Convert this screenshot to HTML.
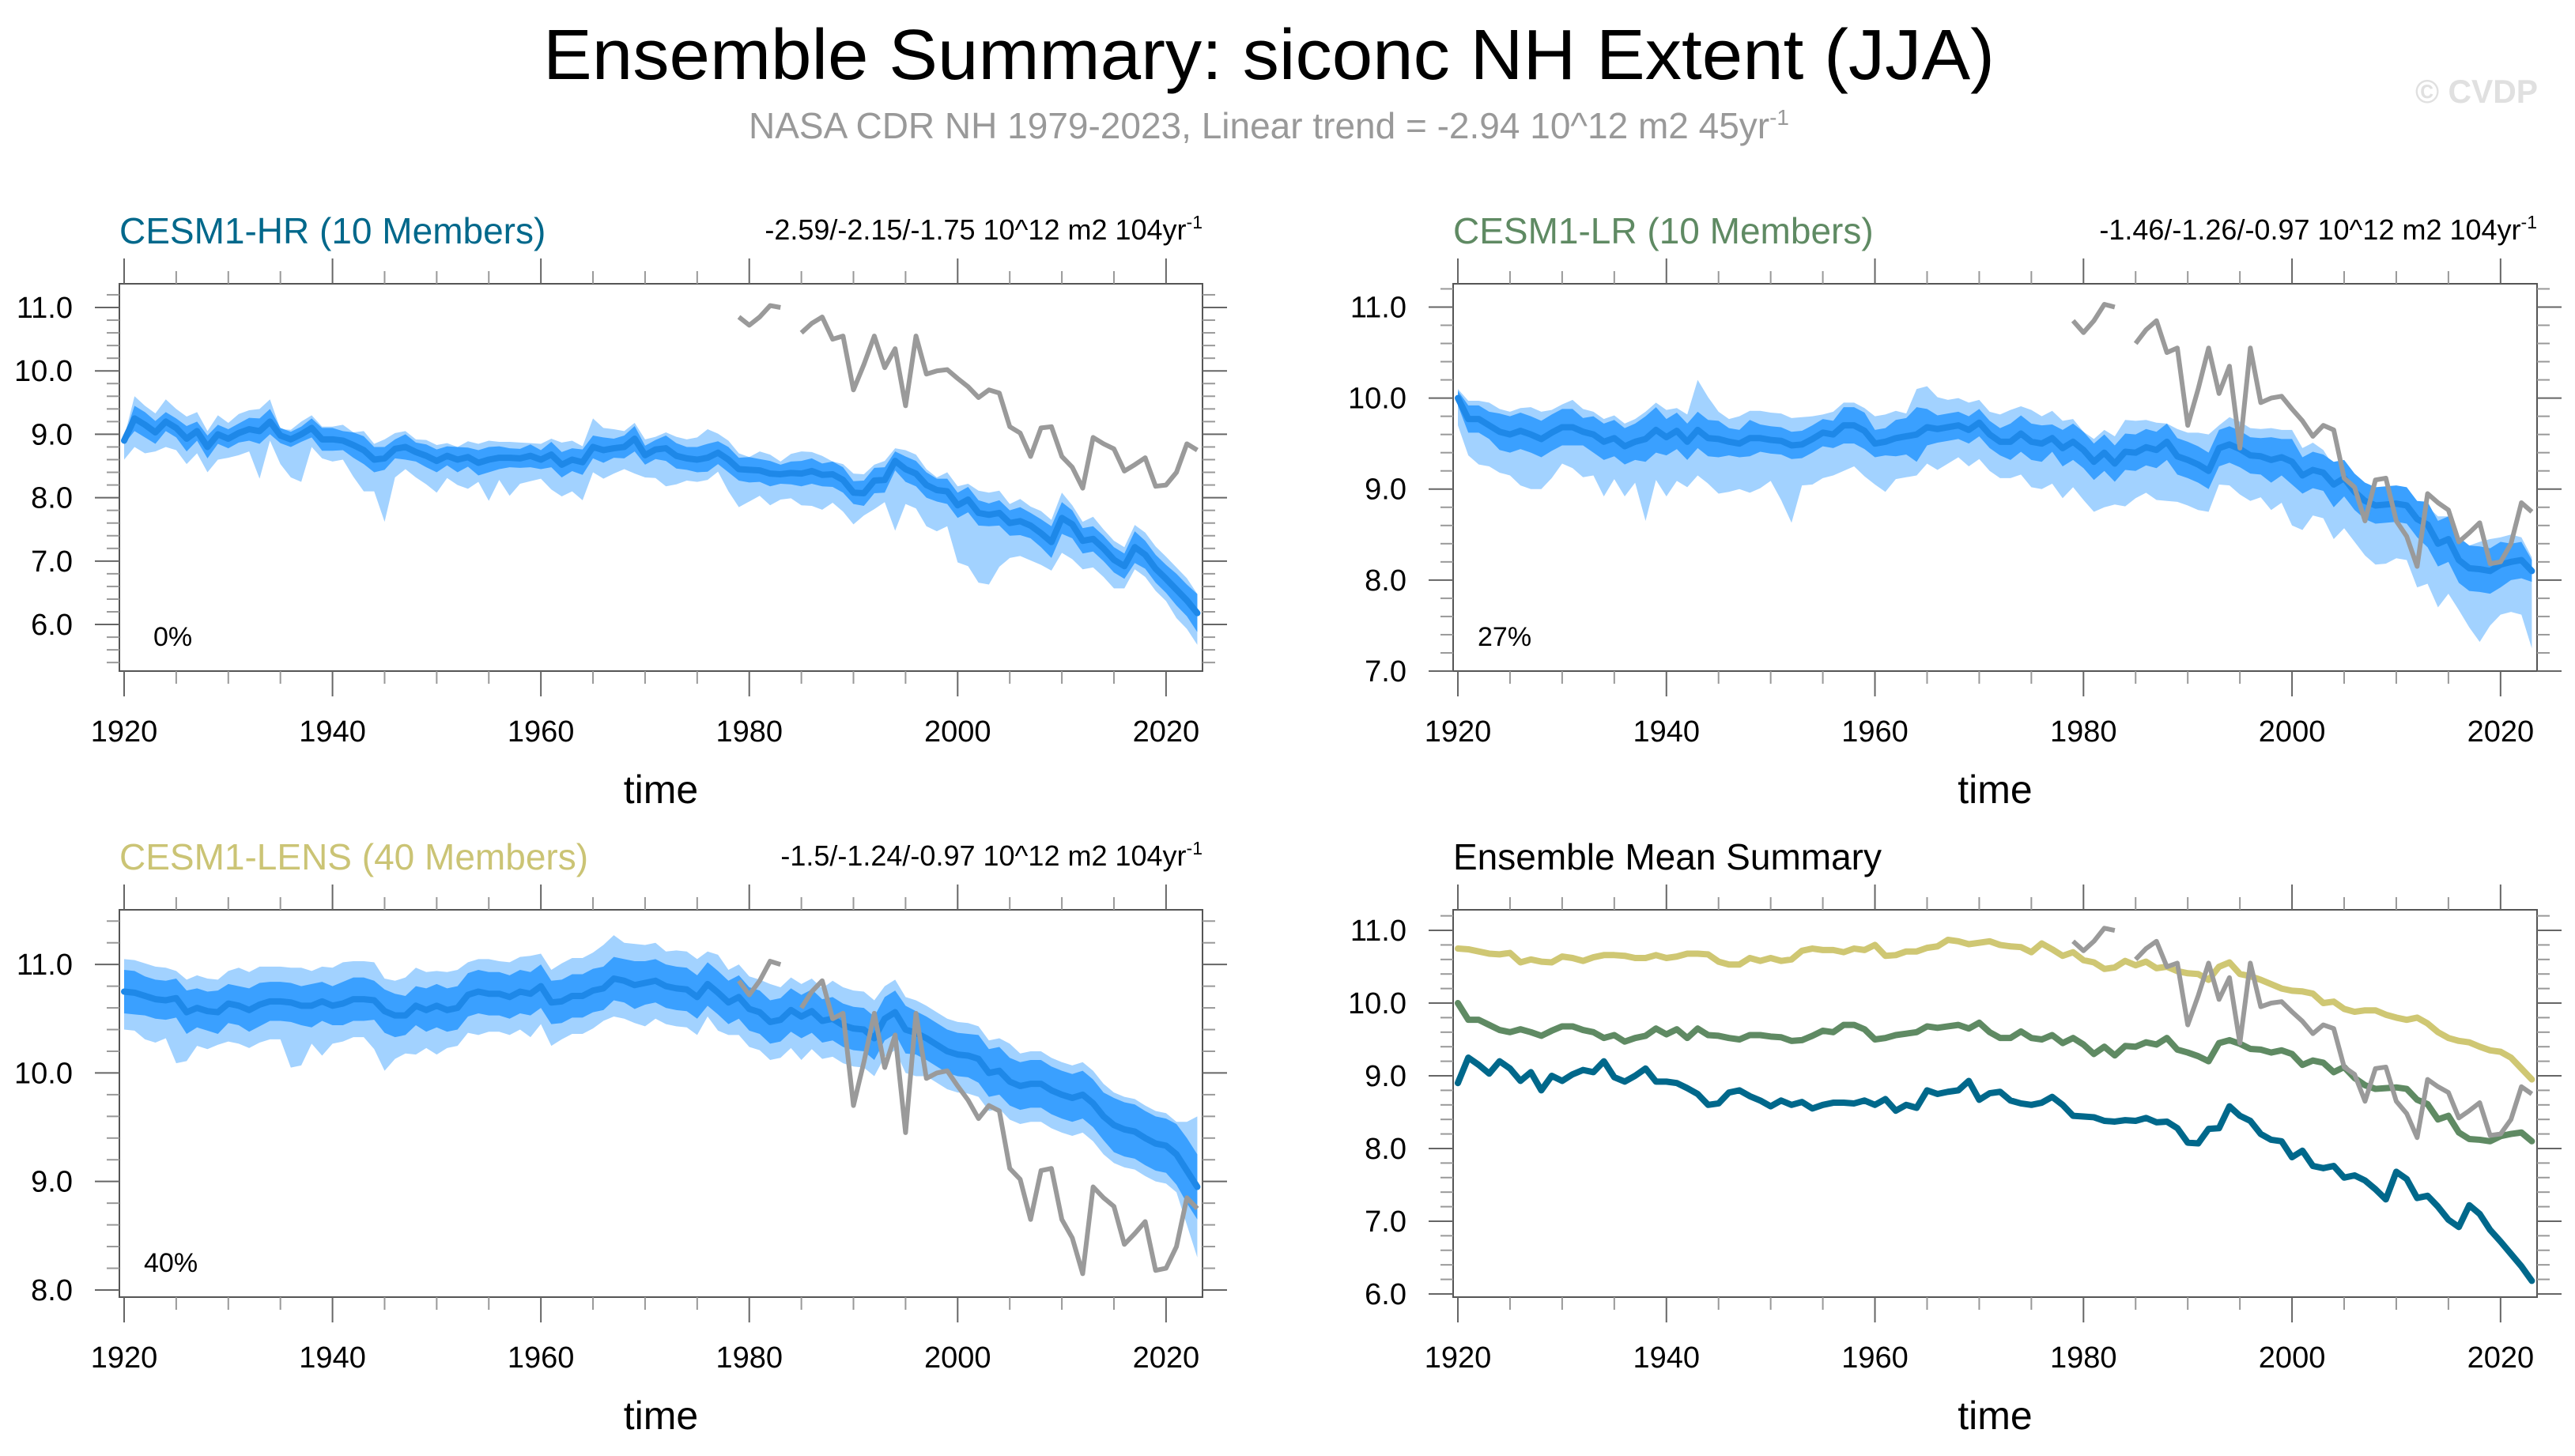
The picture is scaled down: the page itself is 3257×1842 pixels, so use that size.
<!DOCTYPE html>
<html><head><meta charset="utf-8"><title>Ensemble Summary: siconc NH Extent (JJA)</title>
<style>html,body{margin:0;padding:0;background:#fff}svg{display:block}text{font-family:"Liberation Sans",Arial,sans-serif}</style>
</head><body>
<svg id="fig" xmlns="http://www.w3.org/2000/svg" width="3257" height="1842" viewBox="0 0 3257 1842">
<text x="1605" y="100" font-size="90" text-anchor="middle" textLength="1836" lengthAdjust="spacingAndGlyphs" fill="#000">Ensemble Summary: siconc NH Extent (JJA)</text>
<text x="1605" y="175" font-size="46" text-anchor="middle" fill="#999">NASA CDR NH 1979-2023, Linear trend = -2.94 10^12 m2 45yr<tspan dy="-17" font-size="28">-1</tspan></text>
<text x="3055" y="130" font-size="42" font-weight="bold" fill="#e0e0e0" textLength="155" lengthAdjust="spacingAndGlyphs">© CVDP</text>
</svg>
<script>
// ---------- data ----------
const firstYear = 1920;
const hrMean = [8.90,9.25,9.15,9.03,9.20,9.10,8.93,9.05,8.80,9.00,
8.93,9.02,9.08,9.05,9.20,8.98,8.92,9.00,9.10,8.92,
8.92,8.90,8.83,8.75,8.60,8.62,8.77,8.80,8.72,8.66,
8.58,8.66,8.60,8.64,8.55,8.60,8.63,8.63,8.62,8.66,
8.60,8.68,8.52,8.60,8.56,8.80,8.75,8.78,8.80,8.93,
8.67,8.76,8.78,8.66,8.62,8.60,8.63,8.71,8.60,8.45,
8.44,8.43,8.38,8.37,8.39,8.38,8.42,8.36,8.37,8.28,
8.08,8.07,8.27,8.28,8.58,8.45,8.38,8.20,8.12,8.10,
7.88,7.97,7.76,7.73,7.76,7.60,7.63,7.56,7.44,7.30,
7.68,7.58,7.32,7.35,7.20,7.02,6.92,7.22,7.10,6.88,
6.72,6.55,6.38,6.18];
const hrUp = [.05,.35,.3,.3,.35,.3,.35,.3,.25,.3,
.25,.3,.3,.35,.35,.1,.15,.2,.2,.2,
.2,.25,.2,.3,.25,.3,.25,.25,.2,.25,
.25,.2,.2,.25,.3,.3,.25,.25,.25,.2,
.25,.25,.35,.3,.25,.45,.35,.3,.25,.25,
.25,.2,.25,.3,.3,.35,.45,.3,.3,.25,
.2,.3,.3,.2,.3,.35,.3,.3,.2,.25,
.3,.3,.25,.3,.2,.3,.3,.25,.2,.3,
.3,.25,.35,.35,.35,.3,.35,.3,.35,.35,
.4,.3,.3,.35,.3,.3,.3,.35,.35,.35,
.35,.35,.35,.3];
const hrDn = [.3,.45,.45,.3,.4,.35,.4,.35,.4,.4,
.3,.35,.35,.75,.3,.45,.6,.75,.3,.3,
.35,.3,.5,.65,.5,1.0,.45,.35,.4,.45,
.5,.35,.4,.5,.3,.65,.35,.6,.4,.4,
.3,.55,.5,.5,.6,.4,.45,.4,.35,.55,
.35,.45,.6,.45,.35,.35,.35,.3,.5,.6,
.5,.4,.5,.4,.4,.5,.55,.55,.45,.5,
.5,.35,.45,.35,1.1,.55,.55,.65,.65,.55,
.9,1.05,1.1,1.1,.85,.55,.55,.55,.5,.45,
.55,.55,.45,.45,.45,.45,.35,.35,.35,.35,
.35,.45,.45,.5];
const hrIn = [.05,.2,.2,.18,.15,.15,.2,.15,.18,.15,
.15,.15,.18,.2,.2,.12,.12,.12,.15,.18,
.18,.15,.2,.22,.2,.18,.15,.2,.15,.18,
.18,.15,.2,.15,.2,.2,.18,.15,.15,.18,
.15,.2,.2,.18,.2,.18,.2,.15,.18,.2,
.15,.15,.2,.2,.18,.2,.22,.18,.2,.18,
.2,.18,.2,.15,.18,.2,.2,.18,.2,.2,
.18,.2,.2,.2,.15,.2,.2,.2,.18,.2,
.2,.2,.2,.18,.2,.2,.22,.2,.22,.25,
.25,.22,.2,.2,.2,.2,.2,.25,.22,.22,
.22,.25,.25,.3];
const lrMean = [10.00,9.77,9.77,9.70,9.63,9.60,9.64,9.60,9.55,9.62,
9.68,9.68,9.63,9.60,9.52,9.56,9.47,9.52,9.55,9.65,
9.57,9.64,9.52,9.65,9.56,9.55,9.52,9.50,9.56,9.56,
9.54,9.53,9.48,9.49,9.55,9.62,9.60,9.70,9.70,9.64,
9.50,9.52,9.56,9.58,9.60,9.68,9.66,9.68,9.70,9.65,
9.73,9.60,9.52,9.52,9.61,9.52,9.50,9.56,9.45,9.52,
9.43,9.30,9.40,9.28,9.41,9.40,9.46,9.43,9.52,9.36,
9.32,9.27,9.20,9.45,9.49,9.44,9.37,9.36,9.32,9.35,
9.30,9.15,9.21,9.18,9.05,9.12,8.97,8.87,8.82,8.83,
8.84,8.82,8.67,8.61,8.40,8.45,8.22,8.13,8.12,8.10,
8.17,8.20,8.22,8.10];
const lrUp = [.1,.2,.2,.25,.25,.25,.25,.3,.3,.25,
.25,.3,.25,.25,.25,.25,.25,.25,.3,.3,
.3,.25,.3,.55,.45,.3,.25,.3,.3,.3,
.3,.3,.3,.3,.25,.2,.25,.25,.25,.25,
.3,.3,.3,.25,.5,.45,.35,.3,.3,.3,
.25,.25,.3,.35,.3,.35,.3,.3,.3,.25,
.2,.25,.25,.3,.35,.35,.3,.3,.2,.3,
.3,.35,.4,.25,.3,.3,.3,.3,.35,.3,
.35,.3,.3,.25,.2,.2,.15,.2,.2,.15,
.15,.15,.15,.2,.3,.25,.25,.25,.3,.35,
.3,.3,.25,.15];
const lrDn = [.3,.4,.5,.45,.45,.45,.6,.6,.55,.5,
.4,.45,.5,.45,.6,.45,.55,.45,.9,.55,
.65,.55,.5,.5,.5,.6,.55,.5,.6,.55,
.45,.65,.85,.45,.5,.5,.45,.5,.45,.5,
.45,.55,.45,.45,.45,.4,.45,.4,.35,.4,
.4,.4,.4,.4,.45,.5,.5,.5,.55,.5,
.55,.55,.6,.45,.6,.5,.5,.55,.65,.5,
.5,.5,.45,.4,.45,.5,.5,.45,.55,.5,
.7,.6,.5,.5,.6,.55,.55,.6,.65,.65,
.6,.6,.75,.65,.7,.6,.55,.65,.8,.6,
.55,.55,.6,.85];
const lrIn = [.08,.15,.15,.15,.2,.2,.2,.2,.2,.2,
.2,.2,.15,.2,.2,.2,.2,.2,.25,.25,
.2,.2,.2,.2,.2,.2,.15,.15,.2,.15,
.15,.15,.15,.15,.15,.15,.15,.2,.2,.2,
.15,.15,.2,.2,.3,.2,.15,.15,.15,.15,
.15,.15,.15,.2,.2,.2,.2,.15,.2,.2,
.2,.2,.2,.2,.2,.2,.2,.2,.2,.2,
.2,.2,.2,.2,.2,.2,.2,.2,.25,.2,
.25,.2,.2,.2,.25,.2,.2,.2,.2,.2,
.2,.2,.2,.25,.25,.25,.25,.25,.25,.25,
.25,.2,.2,.12];
const lensMean = [10.75,10.74,10.71,10.68,10.67,10.69,10.56,10.60,10.57,10.56,
10.64,10.62,10.58,10.63,10.66,10.66,10.65,10.62,10.62,10.66,
10.62,10.64,10.68,10.68,10.67,10.57,10.53,10.53,10.62,10.58,
10.62,10.58,10.60,10.72,10.75,10.73,10.73,10.70,10.75,10.73,
10.80,10.65,10.66,10.71,10.71,10.76,10.78,10.87,10.85,10.81,
10.83,10.85,10.80,10.78,10.77,10.70,10.82,10.74,10.65,10.70,
10.59,10.56,10.47,10.49,10.58,10.52,10.57,10.48,10.50,10.44,
10.41,10.40,10.32,10.50,10.56,10.40,10.37,10.32,10.26,10.20,
10.17,10.16,10.13,10.00,10.02,9.92,9.88,9.90,9.90,9.84,
9.80,9.77,9.80,9.72,9.60,9.52,9.48,9.46,9.40,9.35,
9.33,9.25,9.10,8.95];
const lensUp = [.3,.3,.3,.3,.3,.25,.3,.3,.3,.3,
.3,.35,.35,.35,.32,.32,.32,.35,.32,.32,
.35,.38,.35,.35,.35,.3,.32,.35,.35,.35,
.32,.35,.35,.3,.3,.32,.3,.32,.32,.35,
.3,.3,.35,.35,.35,.35,.4,.4,.35,.38,
.35,.35,.32,.35,.35,.35,.3,.35,.3,.3,
.3,.3,.35,.3,.3,.3,.3,.3,.35,.35,
.35,.35,.35,.3,.3,.3,.3,.3,.3,.3,
.3,.3,.3,.3,.3,.35,.3,.3,.3,.3,
.3,.3,.3,.3,.3,.3,.3,.3,.3,.3,
.3,.3,.45,.65];
const lensDn = [.35,.35,.4,.4,.35,.6,.45,.35,.35,.3,
.35,.35,.35,.35,.35,.35,.6,.55,.35,.5,
.35,.35,.35,.35,.45,.55,.4,.35,.45,.35,
.45,.35,.35,.35,.4,.35,.35,.35,.35,.4,
.35,.4,.35,.35,.35,.35,.3,.35,.35,.35,
.4,.35,.35,.35,.35,.35,.3,.35,.3,.35,
.35,.35,.35,.35,.35,.4,.35,.35,.35,.35,
.35,.35,.35,.35,.35,.4,.4,.35,.35,.35,
.35,.35,.35,.35,.35,.35,.35,.35,.35,.35,
.35,.35,.35,.35,.35,.35,.35,.35,.35,.35,
.35,.35,.5,.65];
const lensIn = [.2,.2,.18,.18,.18,.18,.2,.18,.18,.2,
.18,.18,.2,.2,.18,.18,.18,.18,.2,.18,
.18,.2,.2,.2,.18,.2,.2,.18,.18,.2,
.2,.2,.2,.2,.2,.2,.2,.2,.2,.2,
.2,.2,.2,.2,.2,.2,.2,.2,.2,.22,
.2,.2,.2,.2,.2,.2,.2,.2,.2,.2,
.2,.2,.2,.2,.2,.2,.2,.2,.2,.2,
.2,.2,.2,.2,.2,.22,.2,.2,.2,.2,
.2,.2,.22,.22,.22,.22,.22,.22,.22,.22,
.22,.22,.22,.22,.22,.25,.25,.25,.25,.25,
.25,.28,.3,.3];
const obsFirstYear = 1979;
const obsValues = [10.85,10.72,10.85,11.03,11.00,null,10.60,10.75,10.85,10.50,
10.55,9.70,10.10,10.55,10.05,10.35,9.45,10.55,9.95,10.00,
10.02,9.88,9.75,9.58,9.70,9.65,9.12,9.02,8.65,9.10,
9.12,8.65,8.48,8.15,8.95,8.85,8.77,8.42,8.52,8.63,
8.18,8.20,8.40,8.85,8.75];
const xTickYears = [1920,1940,1960,1980,2000,2020];

// ---------- drawing ----------
const NS = "http://www.w3.org/2000/svg";
const svg = document.getElementById("fig");
function mk(tag, attrs, parent) {
  const e = document.createElementNS(NS, tag);
  for (const k in attrs) e.setAttribute(k, attrs[k]);
  (parent || svg).appendChild(e);
  return e;
}
const X0 = 1919.545, X1 = 2023.5;
let clipN = 0;

function panel(p) {
  const g = mk("g", {});
  
  
  const xs = yr => p.x + (yr - X0) / (X1 - X0) * p.w;
  const ys = v => p.y + p.h - (v - p.vmin) / (p.vmax - p.vmin) * p.h;
  clipN++;
  const cp = mk("clipPath", {id: "clip" + clipN}, g);
  mk("rect", {x: p.x, y: p.y, width: p.w, height: p.h}, cp);
  const plot = mk("g", {"clip-path": "url(#clip" + clipN + ")"}, g);
  
  

  if (p.mean) {
    const n = p.mean.length;
    const band = (hiArr, loArr, fill, name) => {
      let pts = [];
      for (let i = 0; i < n; i++) pts.push(xs(firstYear + i) + "," + ys(p.mean[i] + hiArr[i]));
      for (let i = n - 1; i >= 0; i--) pts.push(xs(firstYear + i) + "," + ys(p.mean[i] - loArr[i]));
      const poly = mk("polygon", {points: pts.join(" "), fill: fill}, plot);
      
      
    };
    band(p.up, p.dn, "#a2d2ff", "ensemble-range-band");
    band(p.inn, p.inn, "#3aa0ff", "ensemble-inner-band");
    const ln = mk("polyline", {points: p.mean.map((v, i) => xs(firstYear + i) + "," + ys(v)).join(" "),
      fill: "none", stroke: "#1e88e8", "stroke-width": 8, "stroke-linejoin": "round", "stroke-linecap": "round"}, plot);
    
    
  }
  if (p.lines) {
    p.lines.forEach(L => {
      const ln = mk("polyline", {points: L.data.map((v, i) => xs(firstYear + i) + "," + ys(v)).join(" "),
        fill: "none", stroke: L.color, "stroke-width": 8, "stroke-linejoin": "round", "stroke-linecap": "round"}, plot);
      
      
    });
  }
  let seg = [], segs = [];
  obsValues.forEach((v, i) => {
    if (v === null) { if (seg.length) segs.push(seg); seg = []; }
    else seg.push(xs(obsFirstYear + i) + "," + ys(v));
  });
  if (seg.length) segs.push(seg);
  segs.forEach(s => {
    const ob = mk("polyline", {points: s.join(" "), fill: "none", stroke: "#9a9a9a", "stroke-width": 6, "stroke-linejoin": "round"}, plot);
    
    
  });

  const fr = mk("rect", {x: p.x, y: p.y, width: p.w, height: p.h, fill: "none", stroke: "#555", "stroke-width": 2}, g);
  
  

  for (let yr = 1920; yr <= 2023; yr += 5) {
    const major = yr % 20 === 0, L = major ? 32 : 16, c = major ? "#666" : "#999";
    const x = xs(yr);
    mk("line", {x1: x, y1: p.y, x2: x, y2: p.y - L, stroke: c, "stroke-width": 2}, g);
    mk("line", {x1: x, y1: p.y + p.h, x2: x, y2: p.y + p.h + L, stroke: c, "stroke-width": 2}, g);
  }
  xTickYears.forEach(yr => {
    const t = mk("text", {x: xs(yr), y: p.y + p.h + 89, "font-size": 38, "text-anchor": "middle", fill: "#000"}, g);
    t.textContent = yr;
    
    
  });
  const start = Math.ceil(p.vmin * 5 - 1e-6), end = Math.floor(p.vmax * 5 + 1e-6);
  for (let k = start; k <= end; k++) {
    const v = k / 5, major = k % 5 === 0, L = major ? 31 : 16, c = major ? "#666" : "#999";
    const y = ys(v);
    mk("line", {x1: p.x, y1: y, x2: p.x - L, y2: y, stroke: c, "stroke-width": 2}, g);
    mk("line", {x1: p.x + p.w, y1: y, x2: p.x + p.w + L, y2: y, stroke: c, "stroke-width": 2}, g);
    if (major) {
      const t = mk("text", {x: p.x - 59, y: y + 13, "font-size": 38, "text-anchor": "end", fill: "#000"}, g);
      t.textContent = v.toFixed(1);
      
      
    }
  }
  const tt = mk("text", {x: p.x, y: p.y - 51, "font-size": 46, fill: p.titleColor}, g);
  tt.textContent = p.title;
  
  
  if (p.trend) {
    const tr = mk("text", {x: p.x + p.w, y: p.y - 56, "font-size": 36, "text-anchor": "end", fill: "#000"}, g);
    tr.textContent = p.trend;
    const sup = mk("tspan", {dy: -14, "font-size": 23}, tr);
    sup.textContent = "-1";
    
    
  }
  if (p.pct) {
    const pc = mk("text", {x: p.pctX, y: p.y + p.h - 32, "font-size": 34, fill: "#000"}, g);
    pc.textContent = p.pct;
    
    
  }
  const ax = mk("text", {x: p.x + p.w / 2, y: p.y + p.h + 167, "font-size": 50, "text-anchor": "middle", fill: "#000"}, g);
  ax.textContent = "time";
  
  
}

panel({name: "panel-cesm1-hr", x: 151, y: 359, w: 1370, h: 490, vmin: 5.265, vmax: 11.374,
  mean: hrMean, up: hrUp, dn: hrDn, inn: hrIn, title: "CESM1-HR (10 Members)", titleColor: "#00688b",
  trend: "-2.59/-2.15/-1.75 10^12 m2 104yr", pct: "0%", pctX: 194});
panel({name: "panel-cesm1-lr", x: 1838, y: 359, w: 1371, h: 490, vmin: 7.0, vmax: 11.256,
  mean: lrMean, up: lrUp, dn: lrDn, inn: lrIn, title: "CESM1-LR (10 Members)", titleColor: "#5f8a63",
  trend: "-1.46/-1.26/-0.97 10^12 m2 104yr", pct: "27%", pctX: 1869});
panel({name: "panel-cesm1-lens", x: 151, y: 1151, w: 1370, h: 490, vmin: 7.934, vmax: 11.504,
  mean: lensMean, up: lensUp, dn: lensDn, inn: lensIn, title: "CESM1-LENS (40 Members)", titleColor: "#cbc475",
  trend: "-1.5/-1.24/-0.97 10^12 m2 104yr", pct: "40%", pctX: 182});
panel({name: "panel-ensemble-mean-summary", x: 1838, y: 1151, w: 1371, h: 490, vmin: 5.956, vmax: 11.283,
  lines: [{data: lensMean, color: "#cfc773", name: "lens-mean-line"},
          {data: lrMean, color: "#5f8a63", name: "lr-mean-line"},
          {data: hrMean, color: "#00688b", name: "hr-mean-line"}],
  title: "Ensemble Mean Summary", titleColor: "#000"});
</script>
</body></html>
